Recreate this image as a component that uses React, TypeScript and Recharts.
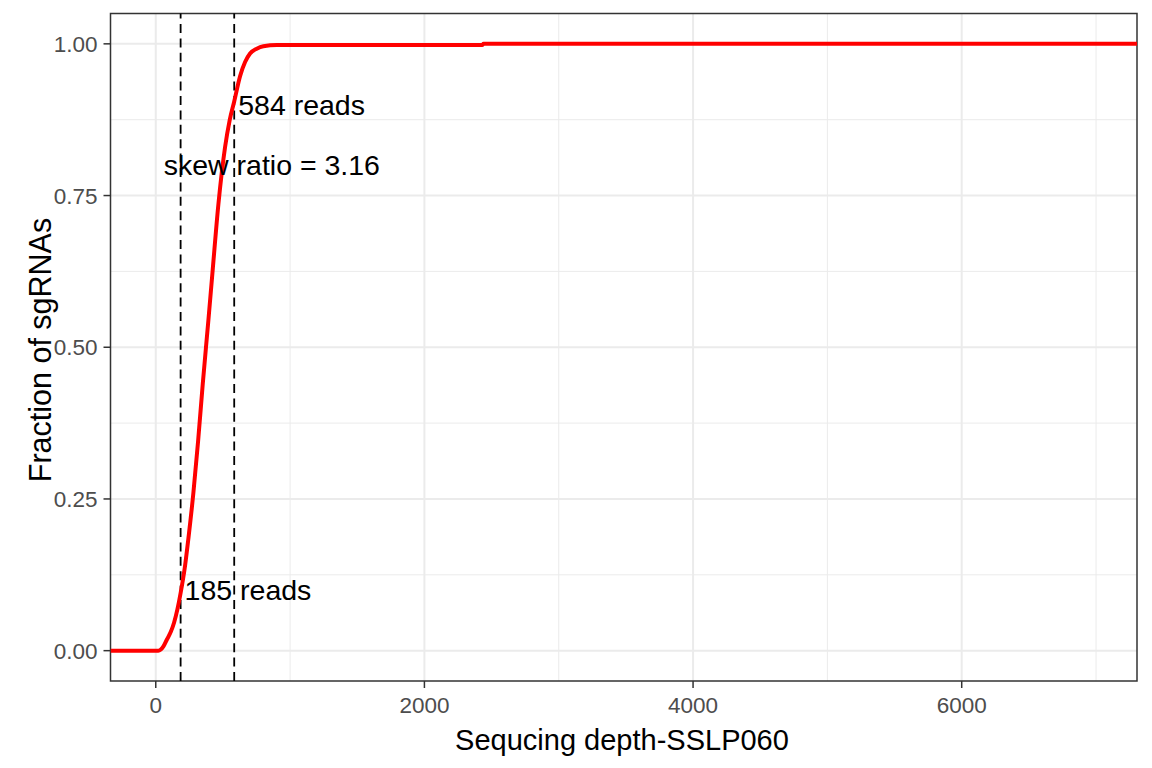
import React from "react";
import {
  LineChart,
  Line,
  XAxis,
  YAxis,
  CartesianGrid,
  ReferenceLine,
  ReferenceDot,
  ReferenceArea,
  Label,
} from "recharts";

// read depth (x) and cumulative fraction of sgRNAs (y)
const reads = [
  -337, 10, 19, 57, 82, 112, 136, 161, 185, 218, 243, 280, 315, 350, 392, 424,
  466, 516, 550, 584, 628, 665, 702, 752, 801, 901, 1000, 2430, 2440, 6957, 7305,
];
const fraction = [
  0, 0, 0, 0.007, 0.018, 0.031, 0.046, 0.068, 0.095, 0.14, 0.185, 0.26, 0.345,
  0.44, 0.545, 0.628, 0.735, 0.83, 0.874, 0.905, 0.947, 0.97, 0.984, 0.992,
  0.996, 0.998, 0.998, 0.998, 1, 1, 1,
];

const xTicks = [0, 2000, 4000, 6000];
const xMinor = [1000, 3000, 5000, 7000];
const yTicks = [0, 0.25, 0.5, 0.75, 1];
const yMinor = [0.125, 0.375, 0.625, 0.875];

const lowCut = 185;
const highCut = 584;
const skewRatio = 3.16;

const data = reads.map((r, i) => ({ reads: r, fraction: fraction[i] }));

const FONT = "'Liberation Sans', Arial, sans-serif";
const tickStyle = { fill: "#4D4D4D", fontSize: 22.5, fontFamily: FONT };
const annoStyle = { fill: "#000", fontSize: 28.5, fontFamily: FONT };

export default function App() {
  return (
    <div
      style={{
        position: "absolute",
        left: 0,
        top: 0,
        width: 1152,
        height: 768,
        background: "#fff",
      }}
    >
      <LineChart
        width={1152}
        height={768}
        data={data}
        margin={{ top: 13.5, right: 15, bottom: 27, left: 0 }}
      >
        <CartesianGrid
          stroke="#EBEBEB"
          strokeWidth={1}
          verticalValues={xMinor}
          horizontalValues={yMinor}
        />
        <CartesianGrid
          stroke="#EBEBEB"
          strokeWidth={2}
          verticalValues={xTicks}
          horizontalValues={yTicks}
        />
        <XAxis
          dataKey="reads"
          type="number"
          domain={[-337, 7305]}
          allowDataOverflow
          ticks={xTicks}
          axisLine={false}
          tickLine={{ stroke: "#333", strokeWidth: 1.5 }}
          tickSize={7}
          tickMargin={9}
          tick={tickStyle}
          height={60}
        >
          <Label
            content={() => (
              <text
                x={622}
                y={750}
                textAnchor="middle"
                fill="#000"
                fontSize={29}
                fontFamily={FONT}
              >
                Sequcing depth-SSLP060
              </text>
            )}
          />
        </XAxis>
        <YAxis
          type="number"
          domain={[-0.05, 1.05]}
          allowDataOverflow
          ticks={yTicks}
          tickFormatter={(v: number) => v.toFixed(2)}
          axisLine={false}
          tickLine={{ stroke: "#333", strokeWidth: 1.5 }}
          tickSize={7}
          tickMargin={6}
          tick={tickStyle}
          width={110.5}
        >
          <Label
            content={() => (
              <text
                transform="translate(50.5,350) rotate(-90)"
                textAnchor="middle"
                fill="#000"
                fontSize={30.5}
                fontFamily={FONT}
              >
                Fraction of sgRNAs
              </text>
            )}
          />
        </YAxis>
        <ReferenceLine
          x={lowCut}
          stroke="#000"
          strokeWidth={1.8}
          strokeDasharray="9 5.4"
        />
        <ReferenceLine
          x={highCut}
          stroke="#000"
          strokeWidth={1.8}
          strokeDasharray="9 5.4"
        />
        <Line
          type="monotoneX"
          dataKey="fraction"
          stroke="#FF0000"
          strokeWidth={4}
          dot={false}
          isAnimationActive={false}
        />
        <ReferenceDot
          x={lowCut}
          y={0.1}
          r={0}
          fill="none"
          stroke="none"
          label={{ value: `${lowCut} reads`, position: "right", offset: 4, ...annoStyle }}
        />
        <ReferenceDot
          x={highCut}
          y={0.9}
          r={0}
          fill="none"
          stroke="none"
          label={{ value: `${highCut} reads`, position: "right", offset: 4, ...annoStyle }}
        />
        <ReferenceDot
          x={864}
          y={0.8}
          r={0}
          fill="none"
          stroke="none"
          label={{ value: `skew ratio = ${skewRatio}`, position: "center", ...annoStyle }}
        />
        <ReferenceArea
          x1={-337}
          x2={7305}
          y1={-0.05}
          y2={1.05}
          fill="none"
          fillOpacity={0}
          stroke="#333"
          strokeWidth={1.5}
        />
      </LineChart>
    </div>
  );
}
